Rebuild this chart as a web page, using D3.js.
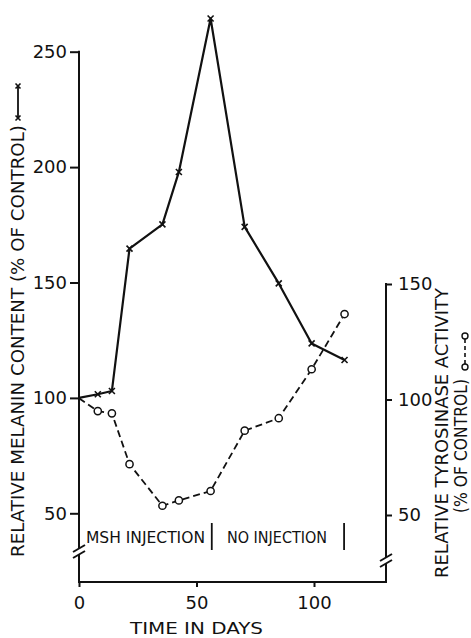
<!DOCTYPE html>
<html><head><meta charset="utf-8">
<script src="https://cdn.jsdelivr.net/npm/d3@7"></script>
<style>
html,body{margin:0;padding:0;background:#fff;}
svg{display:block;}
text{font-family:"DejaVu Sans",sans-serif;fill:#111;}
</style></head>
<body>
<svg id="chart" width="471" height="638"></svg>
<script>
// ---- data ----
const days = [0, 8, 14, 21.5, 35.5, 42.5, 56, 70.5, 85, 99, 113];
const melanin = [100, 101.6, 103, 164.7, 175.2, 197.9, 264.4, 174.1, 149.6, 123.6, 116.4];
const tyrosinase = [100.5, 95, 94, 72, 54, 56.3, 60.4, 86.5, 91.9, 113.1, 137];
const xTicks = [0, 50, 100];
const leftTicks = [50, 100, 150, 200, 250];
const rightTicks = [50, 100, 150];
const phaseBounds = [56.5, 112.8];
const phaseLabels = ["MSH INJECTION", "NO INJECTION"];

const svg = d3.select("#chart");
svg.append("rect").attr("width",471).attr("height",638).attr("fill","#fff");

const x = d3.scaleLinear().domain([0,100]).range([79,314]);
const yL = d3.scaleLinear().domain([50,250]).range([513.3,51.7]);
const yR = d3.scaleLinear().domain([50,150]).range([515,284]);
const x0 = x(0), xEnd = 386, yBase = 582;
const sw = 2;

// ---- axes lines with breaks ----
const g = svg.append("g").attr("stroke","#111").attr("stroke-width",sw).attr("fill","none");
g.append("line").attr("x1",x0).attr("x2",x0).attr("y1",yL(250)-1).attr("y2",548);
g.append("line").attr("x1",x0).attr("x2",x0).attr("y1",554).attr("y2",yBase+1);
g.append("line").attr("x1",x0-6).attr("x2",x0+6).attr("y1",552).attr("y2",545);
g.append("line").attr("x1",x0-6).attr("x2",x0+6).attr("y1",558).attr("y2",551);
g.append("line").attr("x1",xEnd).attr("x2",xEnd).attr("y1",yR(150)-1).attr("y2",557);
g.append("line").attr("x1",xEnd).attr("x2",xEnd).attr("y1",563).attr("y2",yBase+1);
g.append("line").attr("x1",xEnd-6).attr("x2",xEnd+6).attr("y1",561).attr("y2",554);
g.append("line").attr("x1",xEnd-6).attr("x2",xEnd+6).attr("y1",567).attr("y2",560);
g.append("line").attr("x1",x0).attr("x2",xEnd+1).attr("y1",yBase).attr("y2",yBase);

function styleAxis(sel){
  sel.select(".domain").remove();
  sel.selectAll(".tick line").attr("stroke","#111").attr("stroke-width",sw);
  sel.selectAll(".tick text").attr("font-size",18).attr("fill","#111")
     .attr("font-family","DejaVu Sans, sans-serif");
}
svg.append("g").attr("transform",`translate(${x0},0)`)
  .call(d3.axisLeft(yL).tickValues(leftTicks).tickSize(9).tickPadding(3).tickFormat(d3.format("d")))
  .call(styleAxis);
svg.append("g").attr("transform",`translate(${xEnd},0)`)
  .call(d3.axisRight(yR).tickValues(rightTicks).tickSize(6).tickPadding(6).tickFormat(d3.format("d")))
  .call(styleAxis);
svg.append("g").attr("transform",`translate(0,${yBase})`)
  .call(d3.axisBottom(x).tickValues(xTicks).tickSize(5).tickPadding(9).tickFormat(d3.format("d")))
  .call(styleAxis);

// ---- series ----
const melPts = days.map((d,i)=>[x(d), yL(melanin[i])]);
const tyrPts = days.map((d,i)=>[x(d), yR(tyrosinase[i])]);
const line = d3.line();
svg.append("path").attr("d",line(tyrPts)).attr("fill","none").attr("stroke","#111")
  .attr("stroke-width",1.8).attr("stroke-dasharray","7,4");
svg.append("path").attr("d",line(melPts)).attr("fill","none").attr("stroke","#111")
  .attr("stroke-width",2.2).attr("stroke-linejoin","round");

function xMark(sel, px, py, s){
  sel.append("path").attr("d",`M${px-s},${py-s}L${px+s},${py+s}M${px-s},${py+s}L${px+s},${py-s}`)
    .attr("stroke","#111").attr("stroke-width",1.6).attr("fill","none");
}
const mk = svg.append("g");
melPts.slice(1).forEach(p=>xMark(mk,p[0],p[1],3));
svg.append("g").selectAll("circle").data(tyrPts.slice(1)).join("circle")
  .attr("cx",d=>d[0]).attr("cy",d=>d[1]).attr("r",3.6)
  .attr("fill","#fff").attr("stroke","#111").attr("stroke-width",1.5);

// ---- phase annotation ----
phaseBounds.forEach(b=>{
  svg.append("line").attr("x1",x(b)).attr("x2",x(b)).attr("y1",523).attr("y2",550)
    .attr("stroke","#111").attr("stroke-width",1.8);
});
svg.append("text").attr("x",86).attr("y",543).attr("font-size",16)
  .attr("textLength",119).attr("lengthAdjust","spacingAndGlyphs").text(phaseLabels[0]);
svg.append("text").attr("x",227).attr("y",543).attr("font-size",16)
  .attr("textLength",100).attr("lengthAdjust","spacingAndGlyphs").text(phaseLabels[1]);

// ---- axis titles ----
svg.append("text").attr("x",130).attr("y",634).attr("font-size",16)
  .attr("textLength",133).attr("lengthAdjust","spacingAndGlyphs").text("TIME IN DAYS");

svg.append("text").attr("transform","translate(24,557) rotate(-90)").attr("font-size",17)
  .attr("textLength",432).attr("lengthAdjust","spacingAndGlyphs")
  .text("RELATIVE MELANIN CONTENT (% OF CONTROL)");
svg.append("line").attr("x1",18).attr("x2",18).attr("y1",86).attr("y2",118)
  .attr("stroke","#111").attr("stroke-width",1.8);
xMark(svg,18,86,2.5); xMark(svg,18,118,2.5);

svg.append("text").attr("transform","translate(448,578) rotate(-90)").attr("font-size",17)
  .attr("textLength",290).attr("lengthAdjust","spacingAndGlyphs")
  .text("RELATIVE TYROSINASE ACTIVITY");
svg.append("text").attr("transform","translate(467,513) rotate(-90)").attr("font-size",17)
  .attr("textLength",134).attr("lengthAdjust","spacingAndGlyphs")
  .text("(% OF CONTROL)");
svg.append("line").attr("x1",465).attr("x2",465).attr("y1",339).attr("y2",364)
  .attr("stroke","#111").attr("stroke-width",1.6).attr("stroke-dasharray","4,3");
[336,367].forEach(cy=>svg.append("circle").attr("cx",465).attr("cy",cy).attr("r",3)
  .attr("fill","#fff").attr("stroke","#111").attr("stroke-width",1.4));
</script>
</body></html>
